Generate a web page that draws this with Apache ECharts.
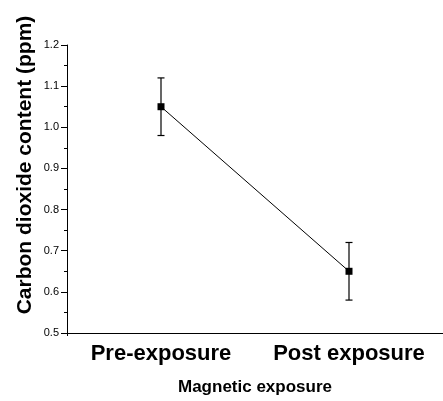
<!DOCTYPE html>
<html>
<head>
<meta charset="utf-8">
<script src="https://cdn.jsdelivr.net/npm/echarts@6/dist/echarts.min.js"></script>
<style>
html,body{margin:0;padding:0;background:#fff;}
#chart{width:443px;height:401px;}
</style>
</head>
<body>
<div id="chart"></div>
<script>
const categories = ['Pre-exposure', 'Post exposure'];
const means = [1.05, 0.65];
const errors = [0.07, 0.07];
const yMin = 0.5, yMax = 1.2, yInterval = 0.1;
const xAxisTitle = 'Magnetic exposure';
const yAxisTitle = 'Carbon dioxide content (ppm)';

const FONT = '"Liberation Sans", Arial, sans-serif';
const errData = means.map((m, i) => [i, m - errors[i], m + errors[i]]);

const chart = echarts.init(document.getElementById('chart'), null, {renderer: 'canvas'});
chart.setOption({
  animation: false,
  backgroundColor: '#fff',
  grid: {left: 67, top: 45, width: 380, height: 290},
  xAxis: [{
    type: 'category',
    data: categories,
    boundaryGap: true,
    axisLine: {lineStyle: {color: '#000', width: 1}},
    axisTick: {alignWithLabel: true, length: 6, lineStyle: {color: '#000'}},
    axisLabel: {color: '#000', fontFamily: FONT, fontSize: 22, fontWeight: 'bold', margin: 10, interval: 0},
    name: xAxisTitle,
    nameLocation: 'middle',
    nameGap: 46,
    nameTextStyle: {color: '#000', fontFamily: FONT, fontSize: 17, fontWeight: 'bold'},
    splitLine: {show: false}
  }, {
    type: 'category',
    data: categories,
    position: 'bottom',
    boundaryGap: true,
    axisLine: {show: false},
    axisTick: {show: true, length: 3, interval: function (i) { return i === 1; }, lineStyle: {color: '#000'}},
    axisLabel: {show: false},
    splitLine: {show: false}
  }],
  yAxis: {
    type: 'value',
    min: yMin,
    max: yMax,
    interval: yInterval,
    axisLine: {show: true, lineStyle: {color: '#000', width: 1}},
    axisTick: {show: true, length: 6, lineStyle: {color: '#000'}},
    minorTick: {show: true, splitNumber: 2, length: 3, lineStyle: {color: '#000'}},
    axisLabel: {color: '#000', fontFamily: FONT, fontSize: 11, margin: 8, formatter: v => v.toFixed(1)},
    splitLine: {show: false}
  },
  graphic: [{
    type: 'text',
    x: 25,
    y: 165,
    rotation: Math.PI / 2,
    style: {
      text: yAxisTitle,
      font: 'bold 21px ' + FONT,
      fill: '#000',
      textAlign: 'center',
      textVerticalAlign: 'middle'
    }
  }],
  series: [{
    type: 'line',
    data: means,
    symbol: 'rect',
    symbolSize: 7,
    lineStyle: {color: '#000', width: 1},
    itemStyle: {color: '#000'},
    z: 3
  }, {
    type: 'custom',
    data: errData,
    renderItem: function (params, api) {
      const x = api.value(0);
      const top = api.coord([x, api.value(2)]);
      const bot = api.coord([x, api.value(1)]);
      const hw = 3.5;
      const st = {stroke: '#000', lineWidth: 1.2};
      return {
        type: 'group',
        children: [
          {type: 'line', shape: {x1: top[0], y1: top[1], x2: bot[0], y2: bot[1]}, style: st},
          {type: 'line', shape: {x1: top[0] - hw, y1: top[1], x2: top[0] + hw, y2: top[1]}, style: st},
          {type: 'line', shape: {x1: bot[0] - hw, y1: bot[1], x2: bot[0] + hw, y2: bot[1]}, style: st}
        ]
      };
    },
    z: 2
  }]
});
</script>
</body>
</html>
